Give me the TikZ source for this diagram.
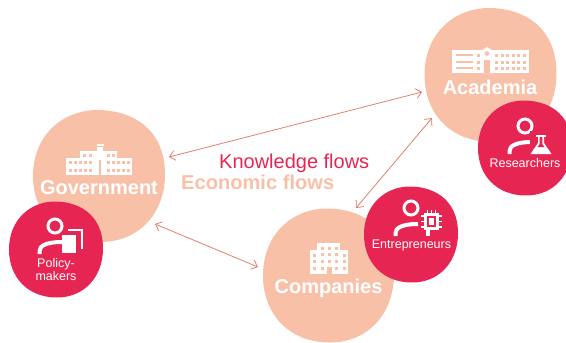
\documentclass[tikz,border=0pt]{standalone}
\usepackage{fontspec}
\setmainfont{Liberation Sans}
\usetikzlibrary{arrows.meta}
\definecolor{peach}{HTML}{F9C0A8}
\definecolor{crim}{HTML}{E72552}
\definecolor{salm}{HTML}{E27F6E}
\tikzset{
  x=1pt,y=-1pt,
  flow/.style={draw=salm,line width=0.8pt,{Straight Barb[length=5.5pt,width=10pt,line width=0.8pt]}-{Straight Barb[length=5.5pt,width=10pt,line width=0.8pt]}},
  peachblob/.style={fill=peach},
  redblob/.style={fill=crim},
  biglabel/.style={text=white,font=\fontsize{20}{20}\selectfont\bfseries,inner sep=0pt},
  smalllabel/.style={text=white,font=\fontsize{12.5}{13}\selectfont,inner sep=0pt,align=center},
  flowtext/.style={font=\fontsize{20}{20}\selectfont,inner sep=0pt},
  ic/.style={draw=white,line width=3pt,fill=none},
  icf/.style={fill=white}
}
% \blobshape{cx}{cy}{rx}{ry}{style}: a rounded, slightly squarish blob
\newcommand{\blobshape}[5]{%
  \fill[#5] ({#1-0.02*#3},{#2-#4})
   .. controls ({#1+0.42*#3},{#2-#4}) and ({#1+#3},{#2-0.78*#4}) .. ({#1+#3},{#2-0.02*#4})
   .. controls ({#1+#3},{#2+0.55*#4}) and ({#1+0.62*#3},{#2+#4}) .. ({#1+0.02*#3},{#2+#4})
   .. controls ({#1-0.60*#3},{#2+#4}) and ({#1-#3},{#2+0.58*#4}) .. ({#1-#3},{#2+0.0*#4})
   .. controls ({#1-#3},{#2-0.62*#4}) and ({#1-0.55*#3},{#2-#4}) .. cycle;}
% person icon head+shoulders, origin at head centre
\newcommand{\personicon}[2]{%
  \draw[ic] (#1,#2) circle (7);
  \draw[white,line width=4pt] ({#1-15.5},{#2+28}) -- ({#1-15.5},{#2+25}) .. controls ({#1-15.5},{#2+20}) and ({#1-9},{#2+16}) .. ({#1+7},{#2+16});
}
\begin{document}
\begin{tikzpicture}
\useasboundingbox (0,0) rectangle (566,343);
% blobs
\blobshape{99}{176}{66}{66}{peachblob}
\blobshape{490.5}{75}{66}{67}{peachblob}
\blobshape{328.5}{275.5}{65.5}{67}{peachblob}
\blobshape{56}{249.5}{47}{48}{redblob}
\blobshape{525}{148}{47}{47.5}{redblob}
\blobshape{411}{234.5}{47}{48}{redblob}
% flows
\coordinate (ga) at (169,157);
\coordinate (ag) at (422,92);
\coordinate (gc) at (155,224);
\coordinate (cg) at (258,267);
\coordinate (ca) at (356,208);
\coordinate (ac) at (432,118);
\draw[flow] (ga) -- (ag);
\draw[flow] (gc) -- (cg);
\draw[flow] (ca) -- (ac);
\node[flowtext,text=crim,anchor=west] (kf) at (219,163.5) {Knowledge flows};
\node[flowtext,text=peach,anchor=west,font=\fontsize{20.1}{20}\selectfont\bfseries] (ef) at (181,182) {Economic flows};
% labels
\node[biglabel] (gov) at (99,187.5) {Government};
\node[biglabel] (aca) at (490,87.5) {Academia};
\node[biglabel] (com) at (328.5,288.5) {Companies};
\node[smalllabel] (pol) at (56,270) {Policy-\\makers};
\node[smalllabel] (res) at (525,163.5) {Researchers};
\node[smalllabel] (ent) at (411.5,245.5) {Entrepreneurs};
% government building
\fill[white] (66,158) rectangle (132,175);
\fill[white] (80,151) rectangle (117,175);
\fill[white] (97,147) rectangle (103,175);
\fill[white] (97,143.5) rectangle (104,146);
\foreach \x in {70,75,80,85,90,108,113,118,123,128}
  \foreach \y in {162,170} \fill[peach] (\x-1.5,\y-1.5) rectangle (\x+1.5,\y+1.5);
\foreach \x in {84,90,108,113}
  \foreach \y in {155} \fill[peach] (\x-1.5,\y-1.5) rectangle (\x+1.5,\y+1.5);
\fill[peach] (99.4,160) rectangle (100.6,175);
% academia building
\fill[white] (452,50) rectangle (529,73);
\fill[white] (481,51) -- (487,47) -- (493,51) -- (493,73) -- (481,73) -- cycle;
\foreach \y in {55,62,68} \fill[peach] (456,\y-1.1) rectangle (473,\y+1.1);
\foreach \y in {55,62,68} \fill[peach] (478-1.5,\y-1.5) rectangle (478+1.5,\y+1.5);
\fill[peach] (487,53.5) circle (2.3);
\fill[peach] (484,60) rectangle (490,73);
\foreach \x in {496.5,502,507.5,513,518.5,524} \foreach \y in {55,62,68} \fill[peach] (\x-1.5,\y-1.5) rectangle (\x+1.5,\y+1.5);
% company building
\fill[white] (310,250) rectangle (348,274);
\fill[white] (317,243) rectangle (340,250);
\foreach \x in {314,344} \foreach \y in {255,261,268} \fill[peach] (\x-1.5,\y-1.5) rectangle (\x+1.5,\y+1.5);
\foreach \x in {322,329,336} \foreach \y in {248,254,261} \fill[peach] (\x-1.5,\y-1.5) rectangle (\x+1.5,\y+1.5);
\foreach \x in {322,336} \fill[peach] (\x-1.5,268-1.5) rectangle (\x+1.5,268+1.5);
\fill[peach] (327,267) rectangle (332,274);
% policy-makers icon
\personicon{55}{226}
\fill[white] (62,235) rectangle (76,253);
\draw[white,line width=1.7pt] (68,230) -- (82,230) -- (82,249);
% researchers icon
\personicon{525}{126}
\fill[crim] (530,131) rectangle (553,155);
\fill[white] (536,135) rectangle (546,137);
\fill[white] (538,136) -- (544,136) -- (544,143) -- (551.5,154) -- (530.5,154) -- (538,143) -- cycle;
\fill[crim] (539.7,137) -- (542.3,137) -- (542.3,144) -- (544.5,147) -- (537.5,147) -- (539.7,144) -- cycle;
% entrepreneurs icon
\personicon{411}{208}
\fill[crim] (420,209) rectangle (443,237);
\fill[white] (424,213) rectangle (438.5,230);
\fill[crim] (426.5,216) rectangle (436,227);
\fill[white] (428.5,218) rectangle (434,225);
\foreach \y in {216,221.5,227} {\draw[white,line width=1.2pt] (421,\y) -- (424,\y); \draw[white,line width=1.2pt] (438.5,\y) -- (442,\y);}
\foreach \x in {427.5,431.5,435.5} {\draw[white,line width=1.2pt] (\x,210) -- (\x,213);}
\fill[white] (426,229) rectangle (430,236);
\end{tikzpicture}
\end{document}
